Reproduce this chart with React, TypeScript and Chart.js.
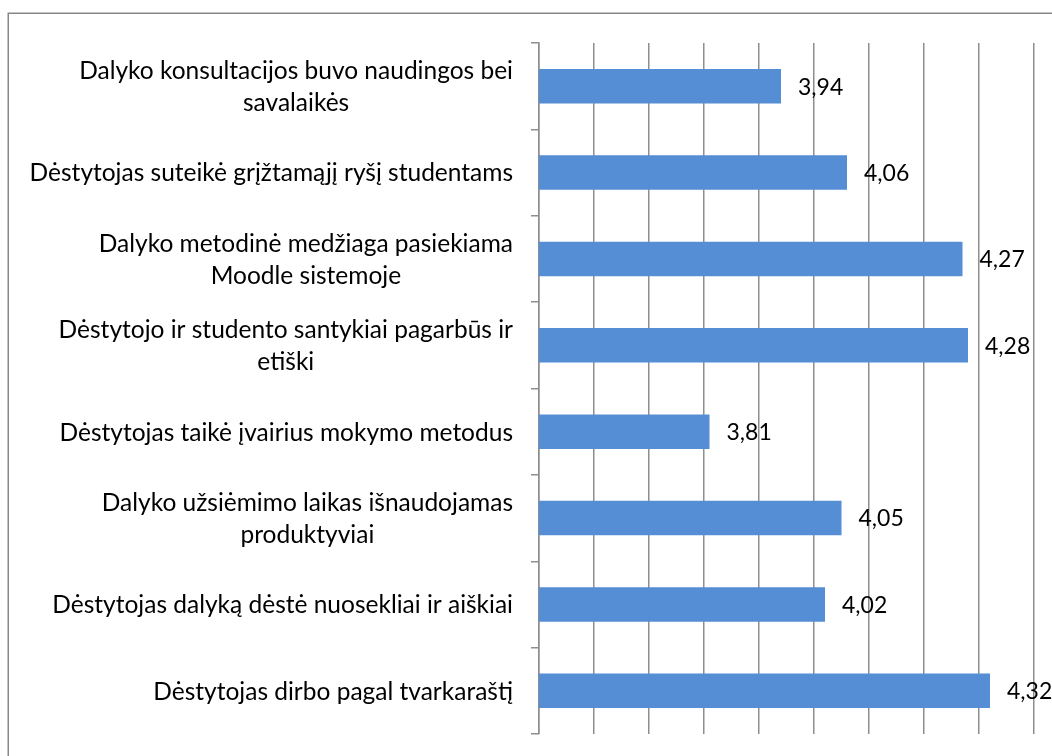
import React, { useEffect, useRef } from "react";
import { Chart, registerables } from "chart.js";

Chart.register(...registerables);

const categories: string[][] = [
  ["Dalyko konsultacijos buvo naudingos bei", "savalaikės"],
  ["Dėstytojas suteikė grįžtamąjį ryšį studentams"],
  ["Dalyko metodinė medžiaga pasiekiama", "Moodle sistemoje"],
  ["Dėstytojo ir studento santykiai pagarbūs ir", "etiški"],
  ["Dėstytojas taikė įvairius mokymo metodus"],
  ["Dalyko užsiėmimo laikas išnaudojamas", "produktyviai"],
  ["Dėstytojas dalyką dėstė nuosekliai ir aiškiai"],
  ["Dėstytojas dirbo pagal tvarkaraštį"],
];

const values: number[] = [3.94, 4.06, 4.27, 4.28, 3.81, 4.05, 4.02, 4.32];

const axisMin = 3.5;
const axisMax = 4.4;
const axisStep = 0.1;

const FONT = "Lato";
const LABEL_SIZE = 24.5;
const VALUE_SIZE = 23;
const LINE_H = 32;
const GRID = "#8e8e8e";

const frame = {
  id: "frame",
  beforeDraw(chart: any) {
    const ctx = chart.ctx;
    ctx.save();
    ctx.fillStyle = "#ffffff";
    ctx.fillRect(0, 0, chart.width, chart.height);
    ctx.strokeStyle = "#878787";
    ctx.lineWidth = 1.5;
    ctx.strokeRect(8.25, 13.25, 3000, 3000);
    ctx.restore();
  },
};

const catLabels = {
  id: "catLabels",
  afterDraw(chart: any) {
    const ctx = chart.ctx;
    const y = chart.scales.y;
    ctx.save();
    ctx.font = `${LABEL_SIZE}px ${FONT}`;
    ctx.fillStyle = "#000000";
    ctx.textAlign = "center";
    ctx.textBaseline = "middle";
    const right = y.right - 26;
    categories.forEach((lines, i) => {
      const cy = y.getPixelForValue(i) + 1;
      const maxW = Math.max(...lines.map((l) => ctx.measureText(l).width));
      const cx = right - maxW / 2;
      const start = cy - ((lines.length - 1) * LINE_H) / 2;
      lines.forEach((l, j) => ctx.fillText(l, cx, start + j * LINE_H));
    });
    ctx.restore();
  },
};

const valueLabels = {
  id: "valueLabels",
  afterDatasetsDraw(chart: any) {
    const ctx = chart.ctx;
    const meta = chart.getDatasetMeta(0);
    ctx.save();
    ctx.font = `${VALUE_SIZE}px ${FONT}`;
    ctx.fillStyle = "#000000";
    ctx.textAlign = "left";
    ctx.textBaseline = "middle";
    meta.data.forEach((bar: any, i: number) => {
      const txt = values[i].toFixed(2).replace(".", ",");
      ctx.fillText(txt, bar.x + 17, bar.y + 1);
    });
    ctx.restore();
  },
};

export default function App() {
  const ref = useRef<HTMLCanvasElement>(null);
  useEffect(() => {
    if (!ref.current) return;
    const chart = new Chart(ref.current, {
      type: "bar",
      data: {
        labels: categories,
        datasets: [
          {
            data: values,
            backgroundColor: "#558ed5",
            borderWidth: 0,
            barPercentage: 0.4,
            categoryPercentage: 1,
          },
        ],
      },
      options: {
        indexAxis: "y",
        responsive: false,
        animation: false,
        layout: { padding: { left: 0, top: 43, right: 18, bottom: 22 } },
        plugins: {
          legend: { display: false },
          tooltip: { enabled: false },
          title: { display: false },
        },
        scales: {
          x: {
            type: "linear",
            min: axisMin,
            max: axisMax,
            ticks: { display: false, stepSize: axisStep },
            grid: { color: GRID, lineWidth: 1.5, drawTicks: false },
            border: { display: false },
            afterFit: (s: any) => {
              s.height = 0;
            },
          },
          y: {
            type: "category",
            ticks: { display: false },
            grid: {
              offset: true,
              drawOnChartArea: false,
              drawTicks: true,
              tickLength: 8,
              color: GRID,
              lineWidth: 1.5,
            },
            border: { display: true, color: GRID, width: 1.5 },
            afterFit: (s: any) => {
              s.width = 539;
            },
          },
        },
      },
      plugins: [frame, catLabels, valueLabels],
    });
    return () => chart.destroy();
  }, []);
  return (
    <div style={{ position: "fixed", left: 0, top: 0, width: 1052, height: 756, background: "#fff" }}>
      <canvas ref={ref} width={1052} height={756} style={{ display: "block" }} />
    </div>
  );
}
